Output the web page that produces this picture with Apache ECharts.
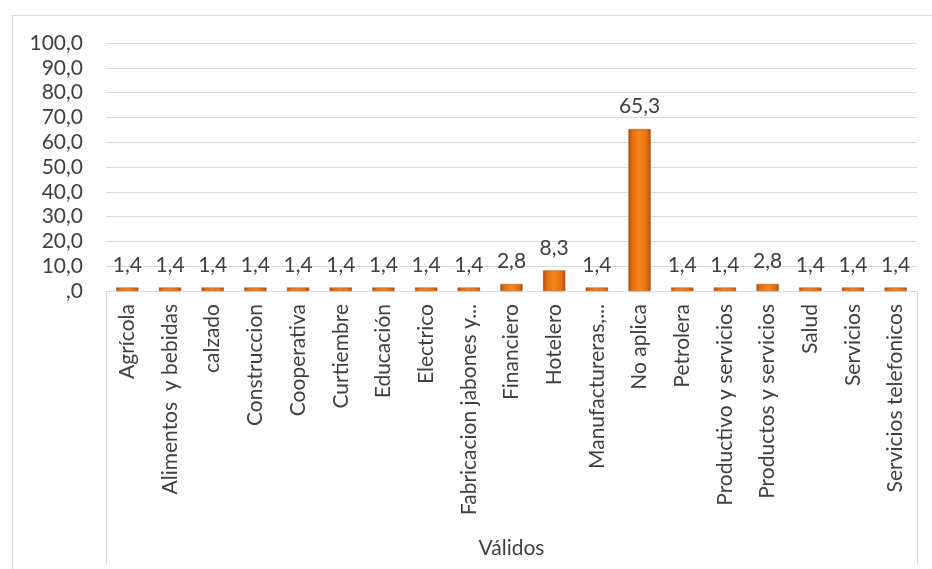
<!DOCTYPE html>
<html>
<head>
<meta charset="utf-8">
<script src="https://cdn.jsdelivr.net/npm/echarts@6/dist/echarts.min.js"></script>
<style>html,body{margin:0;padding:0;background:#fff}#c{width:932px;height:569px}</style>
</head>
<body>
<div id="c"></div>
<script>
const categories = ["Agrícola","Alimentos  y bebidas","calzado","Construccion","Cooperativa","Curtiembre","Educación","Electrico","Fabricacion jabones y...","Financiero","Hotelero","Manufactureras,...","No aplica","Petrolera","Productivo y servicios","Productos y servicios","Salud","Servicios","Servicios telefonicos"];
const values = [1.4,1.4,1.4,1.4,1.4,1.4,1.4,1.4,1.4,2.8,8.3,1.4,65.3,1.4,1.4,2.8,1.4,1.4,1.4];
const groupName = "Válidos";
const yMin = 0, yMax = 100, yStep = 10;

const fmt = v => v === 0 ? ',0' : v.toFixed(1).replace('.', ',');
const FONT = 'Lato, "Open Sans", sans-serif';
const FS = 21;

const chart = echarts.init(document.getElementById('c'), null, {renderer: 'canvas'});
chart.setOption({
  backgroundColor: '#ffffff',
  animation: false,
  textStyle: {fontFamily: FONT},
  grid: {left: 106, right: 15, top: 43, bottom: 278},
  graphic: [
    {type: 'rect', shape: {x: 12.5, y: 15.5, width: 960, height: 600}, style: {fill: 'none', stroke: '#d9d9d9', lineWidth: 1}, z: -1},
    {type: 'line', shape: {x1: 106.5, y1: 291, x2: 106.5, y2: 565}, style: {stroke: '#d9d9d9', lineWidth: 1}},
    {type: 'line', shape: {x1: 917.5, y1: 291, x2: 917.5, y2: 565}, style: {stroke: '#d9d9d9', lineWidth: 1}}
  ],
  xAxis: {
    type: 'category',
    data: categories,
    name: groupName,
    nameLocation: 'middle',
    nameGap: 247,
    nameTextStyle: {color: '#404040', fontSize: FS, fontFamily: FONT},
    axisLine: {lineStyle: {color: '#d9d9d9'}},
    axisTick: {show: false},
    axisLabel: {rotate: 90, interval: 0, color: '#404040', fontSize: FS, fontFamily: FONT, margin: 13}
  },
  yAxis: {
    type: 'value',
    min: yMin, max: yMax, interval: yStep,
    axisLine: {show: false},
    axisTick: {show: false},
    splitLine: {lineStyle: {color: '#d9d9d9', width: 1}},
    axisLabel: {formatter: fmt, color: '#404040', fontSize: FS, fontFamily: FONT, margin: 23}
  },
  series: [{
    type: 'bar',
    data: values,
    barWidth: '52%',
    itemStyle: {
      color: new echarts.graphic.LinearGradient(0, 0, 1, 0, [
        {offset: 0, color: '#b24e0b'},
        {offset: 0.18, color: '#e5700f'},
        {offset: 0.5, color: '#f7861a'},
        {offset: 0.82, color: '#e5700f'},
        {offset: 1, color: '#b24e0b'}
      ]),
      borderColor: '#a9490b',
      borderWidth: 0.5
    },
    label: {
      show: true,
      position: 'top',
      distance: 12,
      formatter: p => fmt(p.value),
      color: '#404040',
      fontSize: FS,
      fontFamily: FONT
    }
  }]
});
</script>
</body>
</html>
